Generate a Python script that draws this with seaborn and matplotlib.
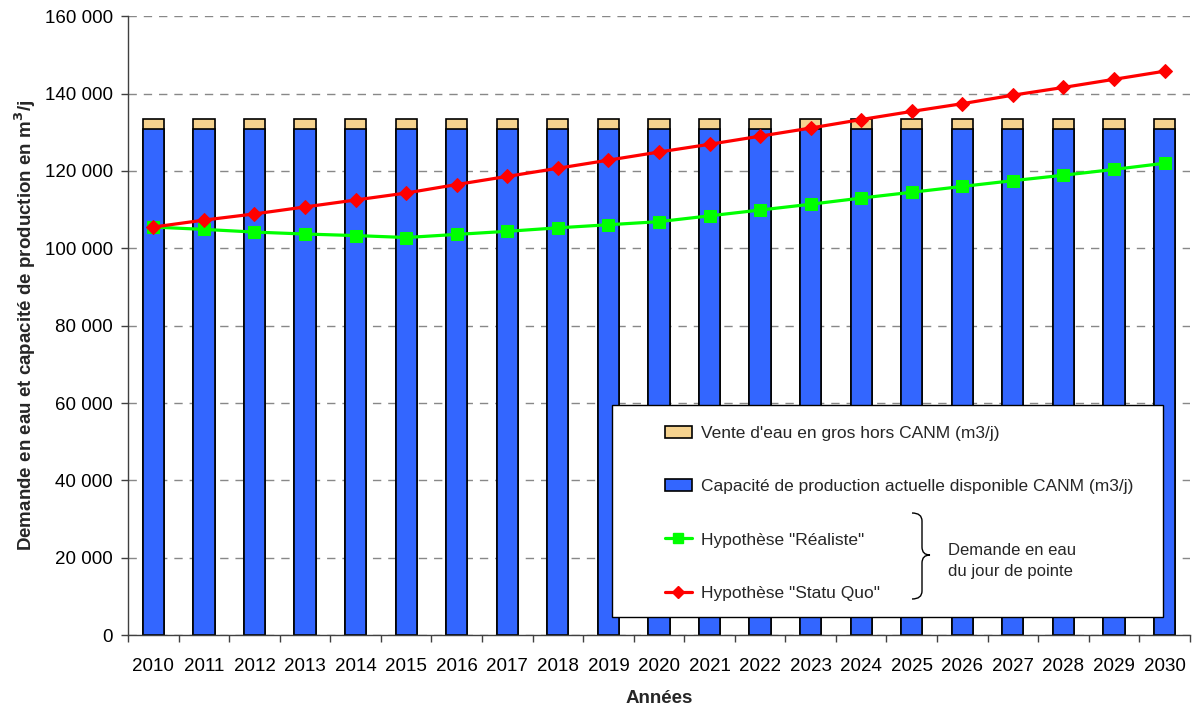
"""Demande en eau vs capacité de production CANM, 2010-2030."""

import matplotlib
matplotlib.use("Agg")
import matplotlib.pyplot as plt
from matplotlib.patches import Rectangle, PathPatch
from matplotlib.path import Path
from matplotlib.lines import Line2D
from matplotlib.ticker import FuncFormatter, FixedLocator
import seaborn as sns
import pandas as pd
import numpy as np

# Data
years = [str(y) for y in range(2010, 2031)]
capacite = [130900] * 21
vente_gros = [2500] * 21
realiste = [105500, 104900, 104200, 103700, 103300, 102800, 103600, 104400,
            105300, 106100, 106900, 108400, 109900, 111400, 113000, 114500,
            116000, 117500, 118900, 120400, 122000]
statu_quo = [105500, 107300, 108900, 110700, 112500, 114300, 116500, 118600,
             120700, 122800, 124900, 126900, 129000, 131100, 133300, 135400,
             137400, 139600, 141600, 143700, 145800]

BLUE = "#3366FF"
TAN = "#F5D28E"
GREEN = "#00FF00"
RED = "#FF0000"

TICK_FS = 13.5
LEG_FS = 12.5

sns.set_theme(style="white")
plt.rcParams["font.family"] = ["Liberation Sans", "DejaVu Sans"]

df = pd.DataFrame({
    "annee": years,
    "capacite": capacite,
    "total": np.array(capacite) + np.array(vente_gros),
    "realiste": realiste,
    "statu_quo": statu_quo,
})

W, H = 1197, 708
fig, ax = plt.subplots(figsize=(W / 100, H / 100), dpi=100)
fig.subplots_adjust(left=0.107, right=0.994, top=0.977, bottom=0.103)

# stacked bars: total (tan) first, capacity (blue) over it
sns.barplot(data=df, x="annee", y="total", color=TAN, saturation=1, width=0.42,
            edgecolor="black", linewidth=1.2, ax=ax, zorder=2)
sns.barplot(data=df, x="annee", y="capacite", color=BLUE, saturation=1, width=0.42,
            edgecolor="black", linewidth=1.2, ax=ax, zorder=2)

pos = np.arange(len(years))
sns.lineplot(x=pos, y=df["realiste"], color=GREEN, marker="s", markersize=8.5,
             markeredgecolor=GREEN, linewidth=2.3, ax=ax, zorder=3)
sns.lineplot(x=pos, y=df["statu_quo"], color=RED, marker="D", markersize=7,
             markeredgecolor=RED, linewidth=2.3, ax=ax, zorder=3)

ax.set_xlim(-0.5, len(years) - 0.5)
ax.set_ylim(0, 160000)
ax.yaxis.set_major_locator(FixedLocator(np.arange(0, 160001, 20000)))
ax.yaxis.set_major_formatter(FuncFormatter(lambda v, p: f"{int(v):,}".replace(",", " ")))

ax.set_xticks(pos)
ax.set_xticklabels(years)
ax.xaxis.set_minor_locator(FixedLocator(np.arange(-0.5, len(years), 1.0)))
ax.tick_params(axis="x", which="major", length=0, pad=16.5, labelsize=TICK_FS, labelcolor="black")
ax.tick_params(axis="x", which="minor", length=5, width=1, color="#404040", direction="out", bottom=True)
ax.tick_params(axis="y", length=5, width=1, color="#404040", direction="out", left=True,
               labelsize=TICK_FS, pad=6, labelcolor="black")

ax.grid(axis="y", color="#888888", linestyle=(0, (6, 5)), linewidth=1)
ax.grid(axis="x", visible=False)
ax.set_axisbelow(True)
for side in ["top", "right"]:
    ax.spines[side].set_visible(False)
for side in ["left", "bottom"]:
    ax.spines[side].set_color("#404040")
    ax.spines[side].set_linewidth(1)

ax.set_xlabel("Années", fontweight="bold", fontsize=TICK_FS, labelpad=11)
ax.set_ylabel(r"Demande en eau et capacité de production en m$^\mathbf{3}$/j",
              fontweight="bold", fontsize=TICK_FS, labelpad=5)


def fx(px):
    return px / W


def fy(py):
    return 1 - py / H


# legend box
fig.add_artist(Rectangle((fx(612), fy(617)), fx(1163) - fx(612), fy(405) - fy(617),
                         transform=fig.transFigure, facecolor="white",
                         edgecolor="black", linewidth=1, zorder=5))

handles = [
    Rectangle((0, 0), 1, 1, facecolor=TAN, edgecolor="black", linewidth=1.2),
    Rectangle((0, 0), 1, 1, facecolor=BLUE, edgecolor="black", linewidth=1.2),
    Line2D([], [], color=GREEN, marker="s", markersize=7.5, linewidth=2.3),
    Line2D([], [], color=RED, marker="D", markersize=6.5, linewidth=2.3),
]
labels = [
    "Vente d'eau en gros hors CANM (m3/j)",
    "Capacité de production actuelle disponible CANM (m3/j)",
    'Hypothèse "Réaliste"',
    'Hypothèse "Statu Quo"',
]
leg = fig.legend(handles, labels, loc="upper left",
                 bbox_to_anchor=(fx(656), fy(417)), bbox_transform=fig.transFigure,
                 frameon=False, borderpad=0, labelspacing=2.2,
                 handlelength=1.55, handleheight=0.7, handletextpad=0.55,
                 fontsize=LEG_FS)
leg.set_zorder(6)

# brace grouping the two demand hypotheses
x0, xv, xt, ytop, ymid, ybot, r = 912, 922, 930, 513, 555, 599, 8
verts_px = [
    (x0, ytop), (xv, ytop), (xv, ytop + r),
    (xv, ymid - r), (xv, ymid), (xt, ymid),
    (xv, ymid), (xv, ymid + r),
    (xv, ybot - r), (xv, ybot), (x0, ybot),
]
codes = [Path.MOVETO, Path.CURVE3, Path.CURVE3,
         Path.LINETO, Path.CURVE3, Path.CURVE3,
         Path.CURVE3, Path.CURVE3,
         Path.LINETO, Path.CURVE3, Path.CURVE3]
brace = Path([(fx(a), fy(b)) for a, b in verts_px], codes)
fig.add_artist(PathPatch(brace, transform=fig.transFigure, facecolor="none",
                         edgecolor="black", linewidth=1, zorder=7))
fig.text(fx(948), fy(561), "Demande en eau\ndu jour de pointe", ha="left", va="center",
         fontsize=12, linespacing=1.5, zorder=7)

fig.savefig("out.png", dpi=100)
